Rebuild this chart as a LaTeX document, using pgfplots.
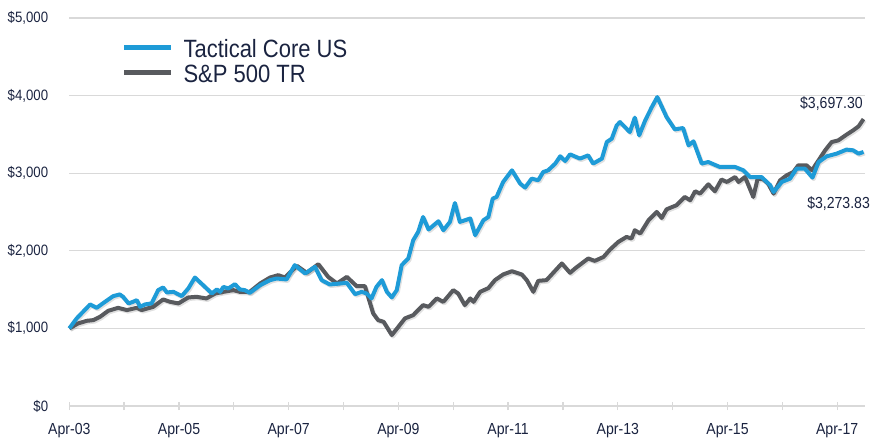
\documentclass[border=0pt]{standalone}
\usepackage{pgfplots}
\pgfplotsset{compat=1.18}
\usepackage{pgfplotstable}
\usepackage{fontspec}
\setmainfont{Liberation Sans}[FakeStretch=0.88]
\definecolor{tcblue}{RGB}{30,155,215}
\definecolor{spgray}{RGB}{88,90,94}
\definecolor{gridgray}{RGB}{217,217,217}
\definecolor{navy}{RGB}{26,35,64}

\pgfplotstableread{
x y
2003.25 1000
2003.385 1129
2003.63 1309
2003.75 1265
2003.86 1322
2004.05 1416
2004.17 1438
2004.23 1407
2004.33 1322
2004.41 1342
2004.48 1364
2004.54 1278
2004.63 1309
2004.75 1322
2004.87 1493
2004.96 1528
2005.03 1463
2005.15 1471
2005.30 1416
2005.42 1515
2005.54 1656
2005.69 1557
2005.85 1450
2005.94 1502
2006.00 1471
2006.06 1535
2006.15 1515
2006.27 1570
2006.36 1502
2006.45 1493
2006.54 1458
2006.73 1557
2006.91 1622
2007.03 1643
2007.21 1631
2007.36 1815
2007.55 1708
2007.73 1793
2007.85 1622
2008.00 1566
2008.19 1579
2008.31 1587
2008.46 1441
2008.58 1471
2008.67 1450
2008.76 1386
2008.85 1535
2008.95 1622
2009.04 1471
2009.13 1399
2009.22 1493
2009.31 1815
2009.43 1901
2009.52 2136
2009.61 2243
2009.70 2436
2009.80 2274
2009.98 2381
2010.07 2265
2010.19 2372
2010.28 2616
2010.37 2372
2010.56 2416
2010.65 2201
2010.80 2394
2010.89 2436
2010.97 2673
2011.04 2694
2011.16 2887
2011.32 3037
2011.47 2866
2011.56 2815
2011.68 2930
2011.80 2909
2011.89 3015
2011.98 3037
2012.11 3124
2012.20 3218
2012.29 3157
2012.38 3243
2012.56 3188
2012.71 3230
2012.80 3124
2012.96 3188
2013.05 3402
2013.14 3445
2013.23 3616
2013.29 3659
2013.47 3530
2013.56 3716
2013.64 3488
2013.75 3681
2013.87 3852
2013.97 3981
2014.14 3723
2014.29 3565
2014.44 3582
2014.54 3359
2014.63 3411
2014.78 3124
2014.90 3144
2015.11 3080
2015.39 3080
2015.54 3037
2015.66 2951
2015.87 2951
2016.03 2844
2016.09 2758
2016.24 2887
2016.39 2930
2016.51 3059
2016.66 3059
2016.80 2943
2016.91 3144
2017.06 3218
2017.24 3252
2017.42 3304
2017.54 3295
2017.64 3252
2017.73 3273.83
}\tactical

\pgfplotstableread{
x y
2003.25 1000
2003.41 1064
2003.57 1098
2003.69 1107
2003.81 1149
2003.96 1227
2004.14 1265
2004.30 1236
2004.48 1265
2004.57 1236
2004.78 1278
2004.96 1373
2005.09 1342
2005.24 1322
2005.42 1399
2005.57 1407
2005.75 1386
2005.91 1450
2006.06 1471
2006.24 1493
2006.36 1471
2006.54 1471
2006.73 1579
2006.91 1656
2007.06 1686
2007.18 1656
2007.40 1806
2007.58 1716
2007.79 1828
2007.97 1664
2008.13 1579
2008.31 1664
2008.49 1544
2008.64 1544
2008.79 1193
2008.88 1107
2008.98 1085
2009.13 914
2009.25 1021
2009.37 1129
2009.52 1171
2009.70 1300
2009.80 1278
2009.95 1386
2010.07 1342
2010.25 1493
2010.34 1450
2010.46 1300
2010.56 1386
2010.62 1342
2010.74 1471
2010.89 1519
2011.01 1622
2011.16 1695
2011.32 1737
2011.50 1695
2011.59 1622
2011.71 1471
2011.80 1613
2011.95 1622
2012.23 1837
2012.38 1716
2012.47 1772
2012.71 1901
2012.83 1870
2012.99 1921
2013.11 2017
2013.26 2115
2013.41 2179
2013.50 2158
2013.56 2265
2013.66 2223
2013.81 2394
2013.96 2501
2014.05 2423
2014.14 2535
2014.32 2587
2014.47 2694
2014.57 2651
2014.66 2767
2014.75 2737
2014.90 2857
2015.02 2767
2015.14 2918
2015.24 2887
2015.39 2951
2015.45 2887
2015.57 2951
2015.72 2694
2015.80 2930
2015.90 2921
2015.99 2866
2016.09 2737
2016.21 2909
2016.33 2973
2016.45 3015
2016.54 3102
2016.69 3102
2016.79 3037
2016.91 3166
2017.03 3295
2017.15 3402
2017.27 3423
2017.42 3497
2017.54 3552
2017.64 3604
2017.73 3697.30
}\spx

\begin{document}
\begin{tikzpicture}
\begin{axis}[
  at={(0pt,0pt)}, anchor=south west,
  scale only axis, width=795.7pt, height=388pt,
  xmin=2003.25, xmax=2017.757,
  ymin=0, ymax=5000,
  axis x line=bottom, axis y line=left,
  axis line style={-},
  x axis line style={draw=gridgray, line width=1.3pt},
  y axis line style={draw=none},
  xtick={2003.25,2004.25,...,2017.25},
  xticklabels={Apr-03,,Apr-05,,Apr-07,,Apr-09,,Apr-11,,Apr-13,,Apr-15,,Apr-17},
  ytick={0,1000,2000,3000,4000,5000},
  yticklabels={{\$0},{\$1,000},{\$2,000},{\$3,000},{\$4,000},{\$5,000}},
  tick align=center,
  xtick style={draw=gridgray, line width=1.3pt},
  major tick length=8pt,
  ytick style={draw=none},
  ymajorgrids,
  grid style={draw=gridgray, line width=1.3pt},
  xticklabel style={font=\fontsize{16}{16}\selectfont, text=navy, inner sep=0pt, anchor=north, yshift=-13pt},
  yticklabel style={font=\fontsize{15}{15}\selectfont, text=navy, inner sep=0pt, anchor=east, xshift=-17pt},
  legend style={at={(axis description cs:0.066,0.948)}, anchor=north west,
    draw=none, fill=none, inner sep=0pt, outer sep=0pt, row sep=6pt, column sep=10pt,
    nodes={inner sep=0pt, text height=19pt, text depth=0pt, font=\fontsize{25}{25}\selectfont, text=navy}},
  legend cell align=left,
  legend image code/.code={\draw[#1, line width=4.7pt] (0pt,0pt) -- (47pt,0pt);},
  clip=false,
]
\addplot[black, opacity=0.12, line width=4pt, line join=round, shift={(1.2pt,-1.5pt)}, forget plot] table {\spx};
\addplot[black, opacity=0.12, line width=4pt, line join=round, shift={(1.2pt,-1.5pt)}, forget plot] table {\tactical};
\addplot[spgray, line width=4pt, line join=round, forget plot] table {\spx};
\addplot[tcblue, line width=4pt, line join=round, forget plot] table {\tactical};
\addlegendimage{tcblue}
\addlegendentry{Tactical Core US}
\addlegendimage{spgray}
\addlegendentry{S\&P 500 TR}
\node[anchor=east, inner sep=0pt, text=navy, font=\fontsize{16}{16}\selectfont] at (axis cs:2017.72,3900) {\$3,697.30};
\node[anchor=east, inner sep=0pt, text=navy, font=\fontsize{16}{16}\selectfont] at (axis cs:2017.85,2613) {\$3,273.83};
\end{axis}
\pgfresetboundingbox
\path[use as bounding box] (-69.3pt,-31pt) rectangle (802.7pt,406pt);
\end{tikzpicture}
\end{document}
